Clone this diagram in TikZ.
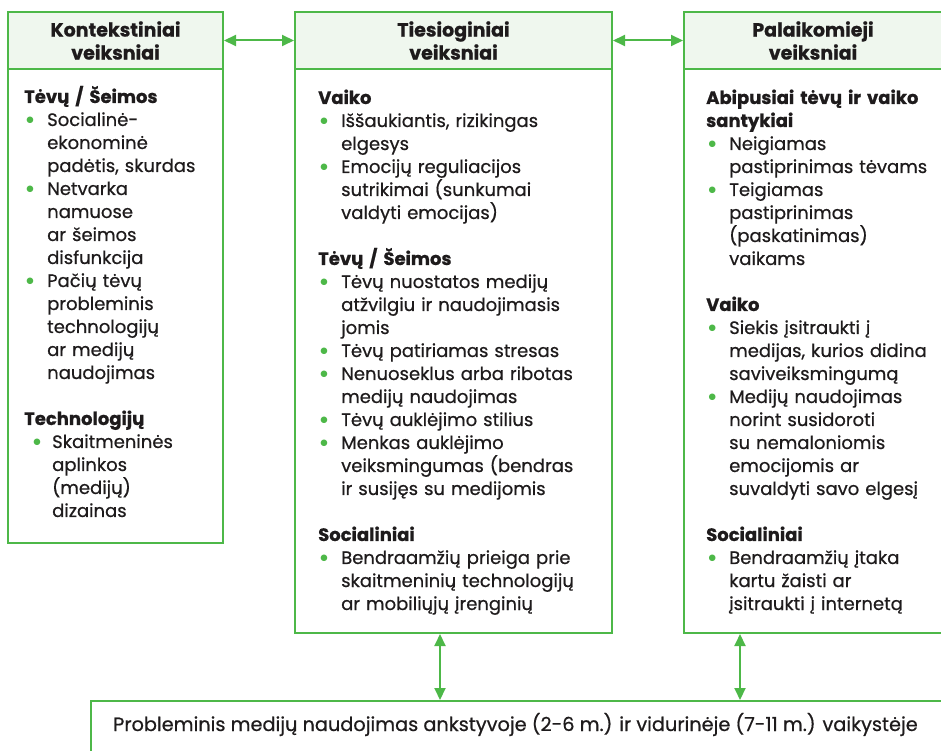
\documentclass[tikz,border=0pt]{standalone}
\usepackage{fontspec}
\setmainfont{Poppins}[UprightFeatures={FakeBold=0.6},BoldFeatures={FakeBold=0.8}]
\newfontfamily\dotfont{DejaVu Sans}
\usepackage{enumitem}
\usetikzlibrary{positioning,calc,arrows.meta}
\definecolor{lgreen}{RGB}{77,184,72}
\definecolor{headfill}{RGB}{239,247,238}
\definecolor{inkgray}{RGB}{30,27,28}
\newcommand{\greendot}{\makebox[6pt]{\raisebox{3.2pt}{\textcolor{lgreen}{\dotfont\fontsize{8.5}{8}\selectfont ●}}}}
\setlist[itemize]{label=\greendot,leftmargin=23pt,labelsep=14pt,
  itemsep=0pt,topsep=0pt,parsep=0pt,partopsep=0pt}
\tikzset{
  headbox/.style={draw=lgreen,fill=headfill,line width=2pt,anchor=north west,
    align=center,inner sep=0pt,font=\fontsize{19}{23}\selectfont\bfseries},
  bodybox/.style={draw=lgreen,fill=white,line width=2pt,anchor=north west,inner sep=0pt},
  boxtext/.style={anchor=base west,inner sep=0pt,align=left,
    font=\fontsize{18}{23}\selectfont},
  dbl/.style={{Triangle[length=12pt,width=11pt]}-{Triangle[length=12pt,width=11pt]},
    draw=lgreen,line width=2pt}
}
\begin{document}
\begin{tikzpicture}[x=1pt,y=-1pt,every node/.style={text=inkgray}]
\useasboundingbox (0,0) rectangle (941,751);
\node[bodybox,minimum width=215pt,minimum height=474pt] (ctxbody) at (7,68) {};
\node[headbox,minimum width=215pt,minimum height=57pt] (ctxhead) at (7,11) {Kontekstiniai\\veiksniai};
\node[bodybox,minimum width=317pt,minimum height=564pt] (dirbody) at (294,68) {};
\node[headbox,minimum width=317pt,minimum height=57pt] (dirhead) at (294,11) {Tiesioginiai\\veiksniai};
\node[bodybox,minimum width=272pt,minimum height=564pt] (supbody) at (683,68) {};
\node[headbox,minimum width=258pt,minimum height=57pt] (suphead) at (683,11) {Palaikomieji\\veiksniai};
\node[bodybox,minimum width=880pt,minimum height=80pt] (outcome) at (90,700) {};

\node[boxtext,text width=196pt] (ctxtext) at (24,103) {%
\textbf{Tėvų / Šeimos}
\begin{itemize}
\item Socialinė-\\ekonominė\\padėtis, skurdas
\item Netvarka\\namuose\\ar šeimos\\disfunkcija
\item Pačių tėvų\\probleminis\\technologijų\\ar medijų\\naudojimas
\end{itemize}
\vspace{23pt}
\textbf{Technologijų}
\begin{itemize}[leftmargin=28pt,labelsep=12pt]
\item Skaitmeninės\\aplinkos\\(medijų)\\dizainas
\end{itemize}};

\node[boxtext,text width=286pt] (dirtext) at (318,104) {%
\textbf{Vaiko}
\begin{itemize}
\item Iššaukiantis, rizikingas\\elgesys
\item Emocijų reguliacijos\\sutrikimai (sunkumai\\valdyti emocijas)
\end{itemize}
\vspace{23pt}
\textbf{Tėvų / Šeimos}
\begin{itemize}
\item Tėvų nuostatos medijų\\atžvilgiu ir naudojimasis\\jomis
\item Tėvų patiriamas stresas
\item Nenuoseklus arba ribotas\\medijų naudojimas
\item Tėvų auklėjimo stilius
\item Menkas auklėjimo\\veiksmingumas (bendras\\ir susijęs su medijomis
\end{itemize}
\vspace{23pt}
\textbf{Socialiniai}
\begin{itemize}
\item Bendraamžių prieiga prie\\skaitmeninių technologijų\\ar mobiliųjų įrenginių
\end{itemize}};

\node[boxtext,text width=234pt] (suptext) at (706,104) {%
\textbf{Abipusiai tėvų ir vaiko}\\\textbf{santykiai}
\begin{itemize}
\item Neigiamas\\pastiprinimas tėvams
\item Teigiamas\\pastiprinimas\\(paskatinimas)\\vaikams
\end{itemize}
\vspace{23pt}
\textbf{Vaiko}
\begin{itemize}
\item Siekis įsitraukti į\\medijas, kurios didina\\saviveiksmingumą
\item Medijų naudojimas\\norint susidoroti\\su nemaloniomis\\emocijomis ar\\suvaldyti savo elgesį
\end{itemize}
\vspace{23pt}
\textbf{Socialiniai}
\begin{itemize}
\item Bendraamžių įtaka\\kartu žaisti ar\\įsitraukti į internetą
\end{itemize}};

\node[anchor=base west,inner sep=0pt,font=\fontsize{19.3}{23}\selectfont] (outtext) at (113,731)
  {Probleminis medijų naudojimas ankstyvoje (2-6 m.) ir vidurinėje (7-11 m.) vaikystėje};

\coordinate (leftdrop) at (440,0);
\coordinate (rightdrop) at (740,0);
\draw[dbl] (ctxhead) -- (dirhead);
\draw[dbl] (dirhead) -- (suphead);
\draw[dbl] (dirbody.south -| leftdrop) -- (outcome.north -| leftdrop);
\draw[dbl] (supbody.south -| rightdrop) -- (outcome.north -| rightdrop);
\end{tikzpicture}
\end{document}
